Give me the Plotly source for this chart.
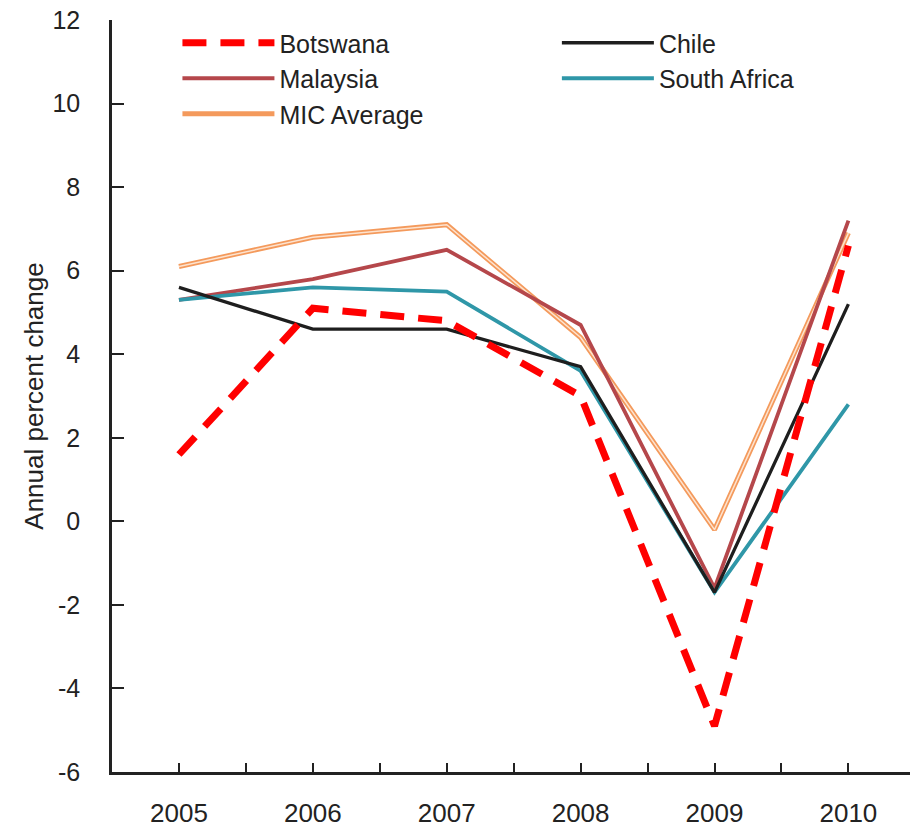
import plotly.graph_objects as go

years = [2005, 2006, 2007, 2008, 2009, 2010]
botswana = [1.6, 5.1, 4.8, 3.0, -4.9, 6.6]
chile = [5.6, 4.6, 4.6, 3.7, -1.7, 5.2]
malaysia = [5.3, 5.8, 6.5, 4.7, -1.6, 7.2]
south_africa = [5.3, 5.6, 5.5, 3.6, -1.7, 2.8]
mic_average = [6.1, 6.8, 7.1, 4.4, -0.2, 6.9]

y_ticks = [-6, -4, -2, 0, 2, 4, 6, 8, 10, 12]
y_ticktext = ["-6", "-4", "-2", "0", "2", "4", "6", "8", "10", "12"]
x_tickvals = [2005, 2005.5, 2006, 2006.5, 2007, 2007.5, 2008, 2008.5, 2009, 2009.5, 2010]
x_ticktext = ["2005", "", "2006", "", "2007", "", "2008", "", "2009", "", "2010"]

FONT = "Liberation Sans, Arial, sans-serif"

fig = go.Figure()
fig.add_trace(go.Scatter(x=years, y=mic_average, mode="lines", name="MIC Average",
                         line=dict(color="#F49A5C", width=5), legend="legend"))
fig.add_trace(go.Scatter(x=years, y=mic_average, mode="lines", name="MIC Average",
                         line=dict(color="#FDE3CF", width=1.5), showlegend=False, hoverinfo="skip"))
fig.add_trace(go.Scatter(x=years, y=malaysia, mode="lines", name="Malaysia",
                         line=dict(color="#B5474B", width=3.8), legend="legend"))
fig.add_trace(go.Scatter(x=years, y=south_africa, mode="lines", name="South Africa",
                         line=dict(color="#2F97A8", width=3.8), legend="legend2"))
fig.add_trace(go.Scatter(x=years, y=chile, mode="lines", name="Chile",
                         line=dict(color="#1E1E1E", width=3.3), legend="legend2"))
fig.add_trace(go.Scatter(x=years, y=botswana, mode="lines", name="Botswana",
                         line=dict(color="#FF0000", width=7, dash="24px,14px"), legend="legend"))

fig.update_layout(
    width=910, height=834,
    margin=dict(l=112, r=0, t=20, b=62),
    paper_bgcolor="white", plot_bgcolor="white",
    font=dict(family=FONT, size=26, color="#222222"),
    showlegend=True,
    legend=dict(x=0.082, y=1.0, xanchor="left", yanchor="top", bgcolor="rgba(0,0,0,0)",
                traceorder="reversed", itemwidth=92, font=dict(size=25)),
    legend2=dict(x=0.5575, y=1.0, xanchor="left", yanchor="top", bgcolor="rgba(0,0,0,0)",
                 traceorder="reversed", itemwidth=92, font=dict(size=25)),
    xaxis=dict(range=[2004.5, 2010.46], tickvals=x_tickvals, ticktext=x_ticktext,
               ticks="inside", ticklen=9, tickwidth=1.5, tickcolor="#222",
               showline=True, linecolor="#222", linewidth=2.5, showgrid=False, zeroline=False,
               ticklabelstandoff=16, tickfont=dict(size=26), automargin=False),
    yaxis=dict(range=[-6, 12], tickvals=y_ticks, ticktext=y_ticktext,
               ticks="inside", ticklen=12, tickwidth=1.5,
               tickcolor="#222", showline=True, linecolor="#222", linewidth=2.5,
               showgrid=False, zeroline=False, ticklabelstandoff=24, tickfont=dict(size=25),
               automargin=False,
               title=dict(text="Annual percent change", font=dict(size=26), standoff=2)),
)

# remove the page's default 8px body margin so the 910x834 figure fills the window
fig.write_html("out.html", config={"displayModeBar": False},
               post_script="document.body.style.margin='0';")
